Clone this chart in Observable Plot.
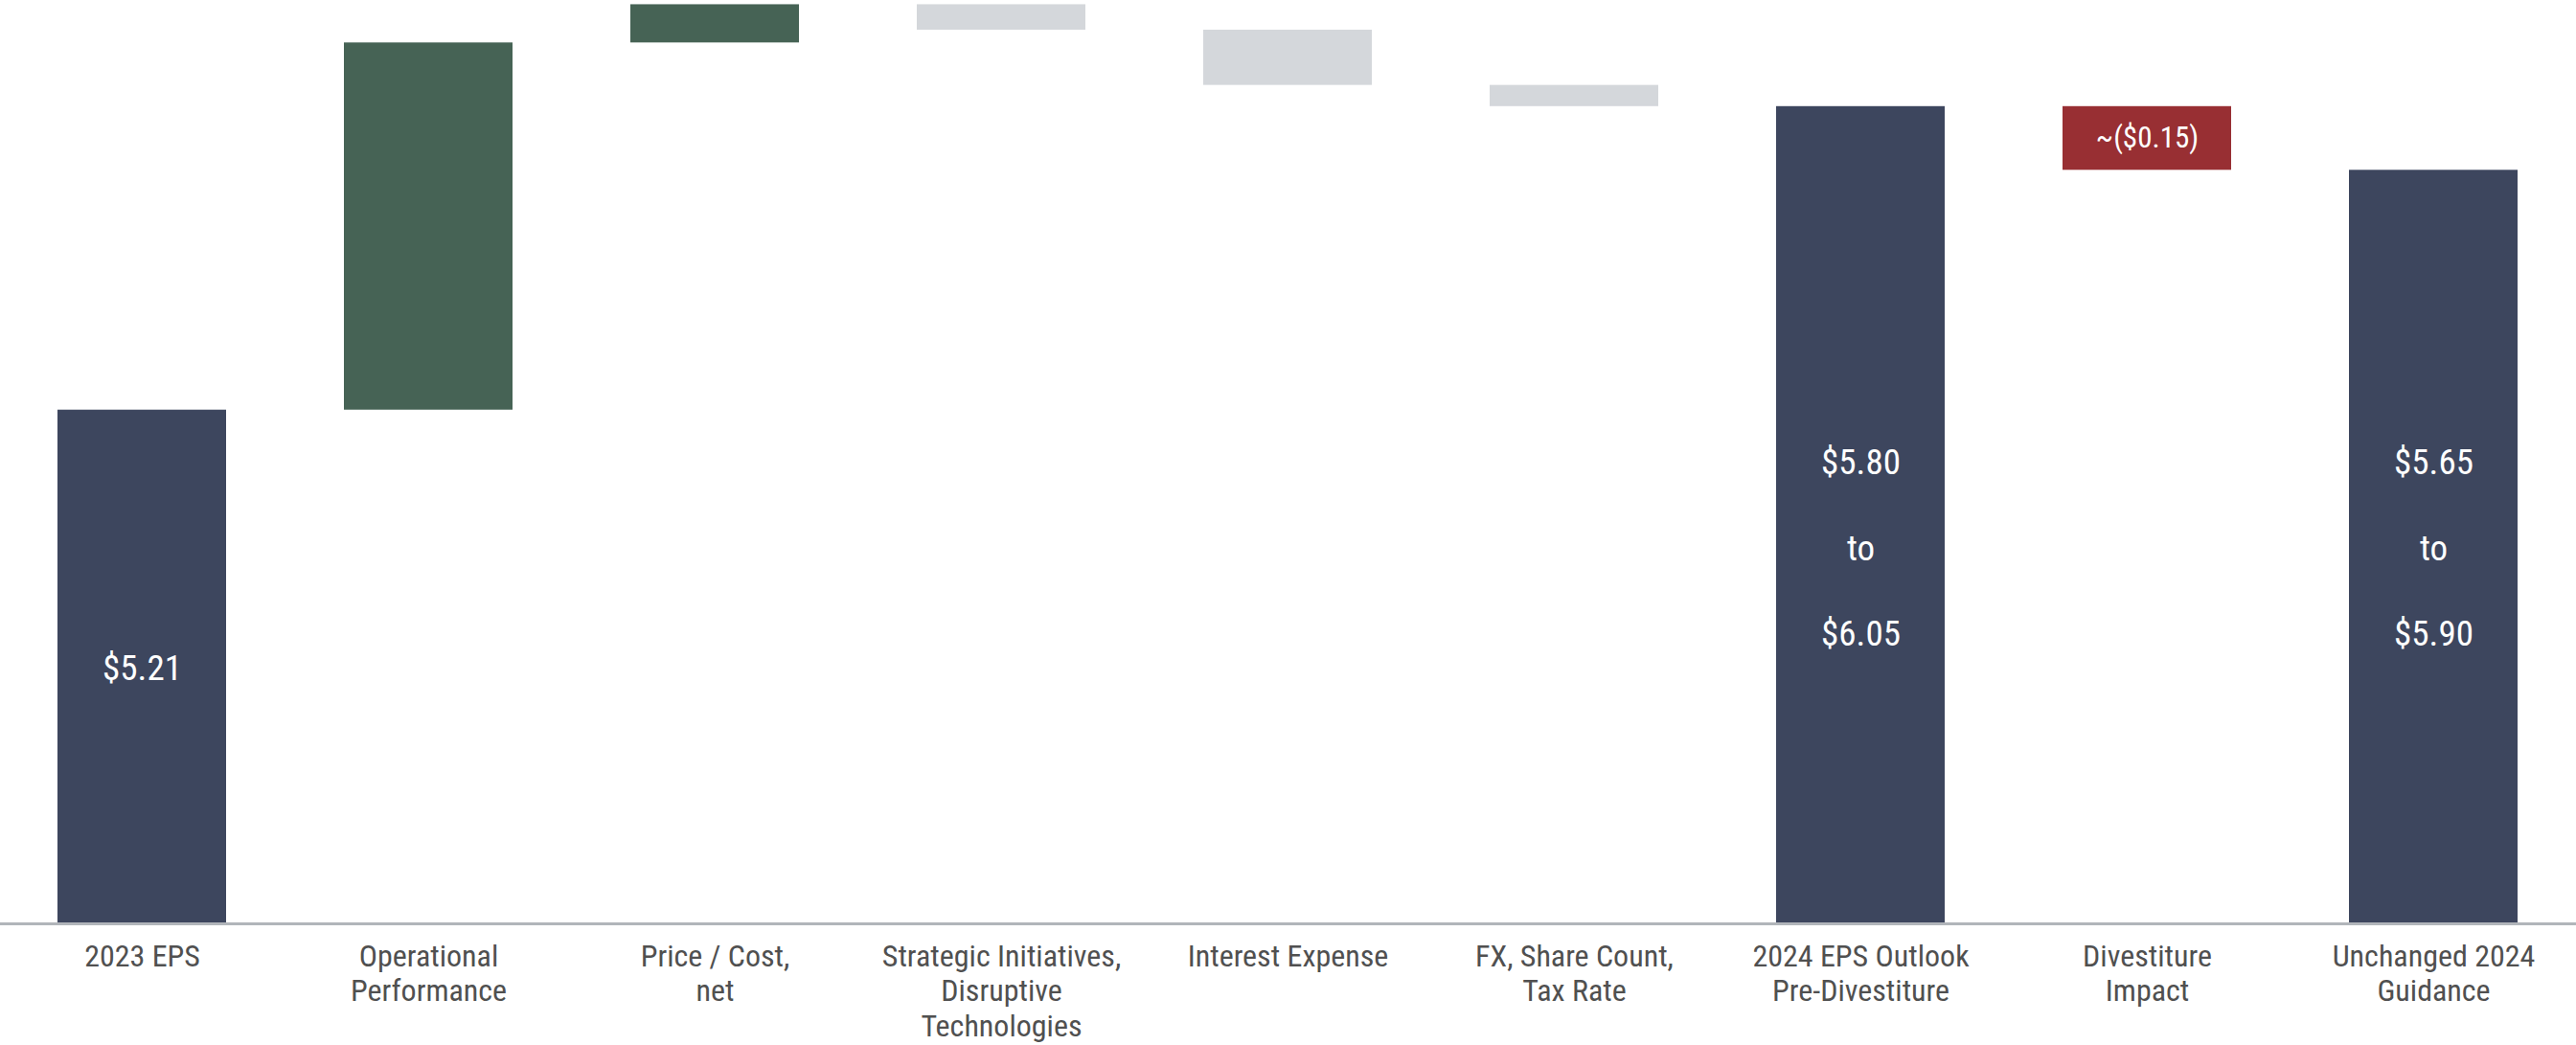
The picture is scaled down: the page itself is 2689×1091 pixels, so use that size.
<!DOCTYPE html>
<html>
<head>
<meta charset="utf-8">
<script src="https://cdn.jsdelivr.net/npm/d3@7"></script>
<script src="https://cdn.jsdelivr.net/npm/@observablehq/plot@0.6"></script>
<style>
  html, body { margin: 0; padding: 0; background: #ffffff; }
  #chart svg { display: block; }
</style>
</head>
<body>
<div id="chart"></div>
<script>
// ---- data ----
const categories = [
  "2023 EPS",
  "Operational Performance",
  "Price / Cost, net",
  "Strategic Initiatives, Disruptive Technologies",
  "Interest Expense",
  "FX, Share Count, Tax Rate",
  "2024 EPS Outlook Pre-Divestiture",
  "Divestiture Impact",
  "Unchanged 2024 Guidance"
];
const tickLabels = [
  "2023 EPS",
  "Operational\nPerformance",
  "Price / Cost,\nnet",
  "Strategic Initiatives,\nDisruptive\nTechnologies",
  "Interest Expense",
  "FX, Share Count,\nTax Rate",
  "2024 EPS Outlook\nPre-Divestiture",
  "Divestiture\nImpact",
  "Unchanged 2024\nGuidance"
];
const kinds = ["total", "up", "up", "down", "down", "down", "total", "divest", "total"];
// totals: [low, high] (single value: low = high); steps: delta
const totalLow  = [5.21, null, null, null, null, null, 5.80, null, 5.65];
const totalHigh = [5.21, null, null, null, null, null, 6.05, null, 5.90];
const deltas    = [null, 0.865, 0.09, -0.06, -0.13, -0.05, null, -0.15, null];
const barLabels = ["$5.21", "", "", "", "", "", "$5.80\nto\n$6.05", "~($0.15)", "$5.65\nto\n$5.90"];
const axisFloor = 4.0;
const axisTop = 6.175;

const kindDomain = ["total", "up", "down", "divest"];
const kindColors = ["#3d465e", "#466355", "#d4d7db", "#982f33"];

// ---- build waterfall rows ----
let running = 0;
const rows = categories.map((cat, i) => {
  let y1, y2;
  if (kinds[i] === "total") {
    running = (totalLow[i] + totalHigh[i]) / 2;
    y1 = axisFloor; y2 = running;
  } else {
    y1 = running; y2 = running + deltas[i];
    running = y2;
  }
  return {cat, kind: kinds[i], y1, y2, label: barLabels[i], range: totalLow[i] !== totalHigh[i]};
});
// range labels share the vertical centre of the final (smaller) range bar
const rangeMid = d3.min(rows.filter(r => r.kind === "total" && r.range), r => (r.y1 + r.y2) / 2);
rows.forEach(r => {
  r.ly = (r.kind === "total" && r.range) ? rangeMid : (r.y1 + r.y2) / 2;
});

const font = "'Roboto Condensed', 'Liberation Sans Narrow', 'DejaVu Sans Condensed', 'Roboto', sans-serif";

const chart = Plot.plot({
  width: 2689,
  height: 1091,
  marginTop: 0,
  marginBottom: 127,
  marginLeft: 0,
  marginRight: 0,
  style: {fontFamily: font, background: "#ffffff"},
  x: {domain: categories, paddingInner: 0.41, paddingOuter: 0.2, label: null},
  y: {domain: [axisFloor, axisTop], axis: null},
  color: {domain: kindDomain, range: kindColors},
  marks: [
    Plot.barY(rows, {x: "cat", y1: "y1", y2: "y2", fill: "kind"}),
    Plot.ruleY([axisFloor], {stroke: "#b1b5ba", strokeWidth: 3}),
    Plot.text(rows.filter(r => r.label && r.kind === "total"), {
      x: "cat", y: "ly", text: "label", fill: "white",
      fontSize: 37, lineHeight: 2.42, dy: -15, fontFamily: font
    }),
    Plot.text(rows.filter(r => r.label && r.kind === "divest"), {
      x: "cat", y: "ly", text: "label", fill: "white",
      fontSize: 31, fontFamily: font
    }),
    Plot.axisX({
      tickSize: 0, tickPadding: 18, fontSize: 32, lineHeight: 1.15,
      tickFormat: (d) => tickLabels[categories.indexOf(d)],
      fill: "#505050", label: null
    })
  ]
});

document.getElementById("chart").append(chart);
</script>
</body>
</html>
